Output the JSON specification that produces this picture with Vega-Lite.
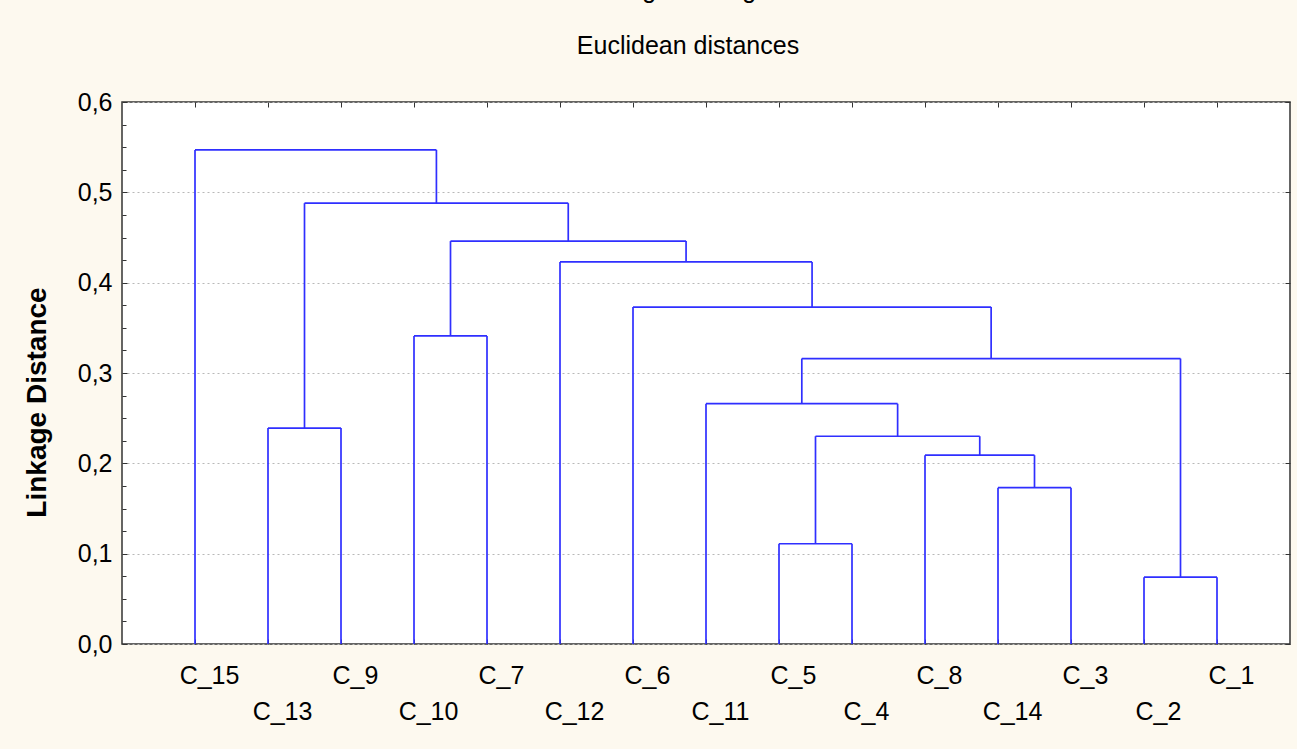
{
  "$schema": "https://vega.github.io/schema/vega-lite/v6.json",
  "width": 1168,
  "height": 542,
  "autosize": {"type": "none"},
  "padding": {"left": 122, "top": 102, "right": 7, "bottom": 105},
  "background": "#fdf9ef",
  "config": {
    "view": {"fill": "white", "stroke": "#333333", "strokeWidth": 1.5},
    "font": "Liberation Sans"
  },
  "title": {
    "text": "Single Linkage",
    "subtitle": "Euclidean distances",
    "anchor": "middle",
    "frame": "group",
    "dx": -18,
    "offset": 31,
    "subtitlePadding": 31,
    "font": "Liberation Sans",
    "subtitleFont": "Liberation Sans",
    "fontSize": 25,
    "subtitleFontSize": 25,
    "fontWeight": "normal",
    "color": "black",
    "subtitleColor": "black"
  },
  "data": {
    "values": [
      {"x": 1, "x2": 1, "y": 0, "y2": 0.547},
      {"x": 2, "x2": 2, "y": 0, "y2": 0.239},
      {"x": 3, "x2": 3, "y": 0, "y2": 0.239},
      {"x": 4, "x2": 4, "y": 0, "y2": 0.341},
      {"x": 5, "x2": 5, "y": 0, "y2": 0.341},
      {"x": 6, "x2": 6, "y": 0, "y2": 0.423},
      {"x": 7, "x2": 7, "y": 0, "y2": 0.373},
      {"x": 8, "x2": 8, "y": 0, "y2": 0.266},
      {"x": 9, "x2": 9, "y": 0, "y2": 0.111},
      {"x": 10, "x2": 10, "y": 0, "y2": 0.111},
      {"x": 11, "x2": 11, "y": 0, "y2": 0.209},
      {"x": 12, "x2": 12, "y": 0, "y2": 0.173},
      {"x": 13, "x2": 13, "y": 0, "y2": 0.173},
      {"x": 14, "x2": 14, "y": 0, "y2": 0.074},
      {"x": 15, "x2": 15, "y": 0, "y2": 0.074},
      {"x": 14.5, "x2": 14.5, "y": 0.074, "y2": 0.316},
      {"x": 9.5, "x2": 9.5, "y": 0.111, "y2": 0.230},
      {"x": 12.5, "x2": 12.5, "y": 0.173, "y2": 0.209},
      {"x": 11.75, "x2": 11.75, "y": 0.209, "y2": 0.230},
      {"x": 10.625, "x2": 10.625, "y": 0.230, "y2": 0.266},
      {"x": 9.3125, "x2": 9.3125, "y": 0.266, "y2": 0.316},
      {"x": 11.906, "x2": 11.906, "y": 0.316, "y2": 0.373},
      {"x": 9.453, "x2": 9.453, "y": 0.373, "y2": 0.423},
      {"x": 7.727, "x2": 7.727, "y": 0.423, "y2": 0.446},
      {"x": 4.5, "x2": 4.5, "y": 0.341, "y2": 0.446},
      {"x": 6.113, "x2": 6.113, "y": 0.446, "y2": 0.488},
      {"x": 2.5, "x2": 2.5, "y": 0.239, "y2": 0.488},
      {"x": 4.307, "x2": 4.307, "y": 0.488, "y2": 0.547},
      {"x": 14, "x2": 15, "y": 0.074, "y2": 0.074},
      {"x": 9, "x2": 10, "y": 0.111, "y2": 0.111},
      {"x": 12, "x2": 13, "y": 0.173, "y2": 0.173},
      {"x": 11, "x2": 12.5, "y": 0.209, "y2": 0.209},
      {"x": 9.5, "x2": 11.75, "y": 0.230, "y2": 0.230},
      {"x": 8, "x2": 10.625, "y": 0.266, "y2": 0.266},
      {"x": 9.3125, "x2": 14.5, "y": 0.316, "y2": 0.316},
      {"x": 7, "x2": 11.906, "y": 0.373, "y2": 0.373},
      {"x": 6, "x2": 9.453, "y": 0.423, "y2": 0.423},
      {"x": 4, "x2": 5, "y": 0.341, "y2": 0.341},
      {"x": 4.5, "x2": 7.727, "y": 0.446, "y2": 0.446},
      {"x": 2, "x2": 3, "y": 0.239, "y2": 0.239},
      {"x": 2.5, "x2": 6.113, "y": 0.488, "y2": 0.488},
      {"x": 1, "x2": 4.307, "y": 0.547, "y2": 0.547}
    ]
  },
  "resolve": {"axis": {"x": "independent", "y": "independent"}},
  "layer": [
    {
      "mark": {"type": "rule", "color": "#2f2fff", "strokeWidth": 1.7},
      "encoding": {
        "x": {
          "field": "x", "type": "quantitative",
          "scale": {"domain": [0, 16], "nice": false, "zero": false},
          "axis": {
            "orient": "bottom",
            "values": [1,2,3,4,5,6,7,8,9,10,11,12,13,14,15],
            "labelExpr": "['','C_15','C_13','C_9','C_10','C_7','C_12','C_6','C_11','C_5','C_4','C_8','C_14','C_3','C_2','C_1'][datum.value]",
            "title": null,
            "domain": false,
            "grid": false,
            "tickSize": -5,
            "tickColor": "#333333",
            "labelFontSize": 25,
            "labelFont": "Liberation Sans",
            "labelColor": "black",
            "labelOffset": 14,
            "labelBaseline": "alphabetic",
            "labelPadding": {"condition": {"test": "datum.value % 2 == 0", "value": 80}, "value": 44},
            "labelOverlap": false,
            "labelFlush": false
          }
        },
        "x2": {"field": "x2"},
        "y": {
          "field": "y", "type": "quantitative",
          "scale": {"domain": [0, 0.6], "nice": false, "zero": false},
          "axis": {
            "orient": "left",
            "values": [0, 0.1, 0.2, 0.3, 0.4, 0.5, 0.6],
            "format": ".1f",
            "labelExpr": "replace(datum.label, '.', ',')",
            "domain": false,
            "grid": true,
            "gridDash": [2, 3],
            "gridColor": "#b8b8b8",
            "gridWidth": 1,
            "tickSize": -5,
            "tickColor": "#333333",
            "labelFontSize": 25,
            "labelFont": "Liberation Sans",
            "labelColor": "black",
            "labelPadding": 15,
            "labelBaseline": "middle",
            "title": "Linkage Distance",
            "titleFont": "Liberation Sans",
            "titleFontSize": 28,
            "titleFontWeight": "bold",
            "titleColor": "black",
            "titleAngle": -90,
            "titleAlign": "center",
            "titleBaseline": "middle",
            "titleX": -85,
            "titleY": 300
          }
        },
        "y2": {"field": "y2"}
      }
    },
    {
      "mark": {"type": "rule", "strokeOpacity": 0},
      "encoding": {
        "x": {
          "field": "x", "type": "quantitative",
          "axis": {
            "orient": "top",
            "values": [1,2,3,4,5,6,7,8,9,10,11,12,13,14,15],
            "labels": false,
            "title": null,
            "domain": false,
            "grid": false,
            "tickSize": -5,
            "tickColor": "#333333"
          }
        },
        "y": {
          "field": "y", "type": "quantitative",
          "axis": {
            "orient": "left",
            "values": [0,0.025,0.05,0.075,0.1,0.125,0.15,0.175,0.2,0.225,0.25,0.275,0.3,0.325,0.35,0.375,0.4,0.425,0.45,0.475,0.5,0.525,0.55,0.575,0.6],
            "labels": false,
            "title": null,
            "domain": false,
            "grid": false,
            "tickSize": -4,
            "tickColor": "#333333"
          }
        }
      }
    },
    {
      "mark": {"type": "rule", "strokeOpacity": 0},
      "encoding": {
        "x": {"field": "x", "type": "quantitative", "axis": null},
        "y": {
          "field": "y", "type": "quantitative",
          "axis": {
            "orient": "right",
            "values": [0, 0.1, 0.2, 0.3, 0.4, 0.5, 0.6],
            "labels": false,
            "title": null,
            "domain": false,
            "grid": false,
            "tickSize": -5,
            "tickColor": "#333333"
          }
        }
      }
    }
  ]
}
